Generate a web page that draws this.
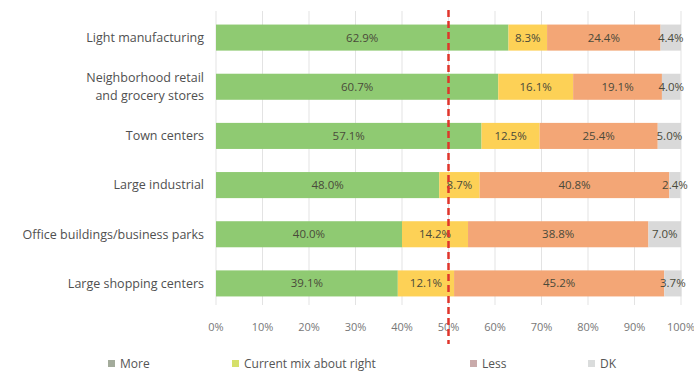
<!DOCTYPE html>
<html>
<head>
<meta charset="utf-8">
<script src="https://cdn.jsdelivr.net/npm/d3@7"></script>
<style>
	body { margin: 0; background: #fff; }
	text { font-family: "Open Sans", "Liberation Sans", sans-serif; }
</style>
</head>
<body>
<div id="chart"></div>
<script>
var categories = [
	["Light manufacturing"],
	["Neighborhood retail", "and grocery stores"],
	["Town centers"],
	["Large industrial"],
	["Office buildings/business parks"],
	["Large shopping centers"],
];
var seriesNames = ["More", "Current mix about right", "Less", "DK"];
var more = [62.9, 60.7, 57.1, 48.0, 40.0, 39.1];
var mixRight = [8.3, 16.1, 12.5, 8.7, 14.2, 12.1];
var less = [24.4, 19.1, 25.4, 40.8, 38.8, 45.2];
var dk = [4.4, 4.0, 5.0, 2.4, 7.0, 3.7];
var tickValues = [0, 10, 20, 30, 40, 50, 60, 70, 80, 90, 100];
var markerValue = 50;

var colors = ["#8fca72", "#fdd156", "#f3a676", "#d9d9d9"];
var legendColors = ["#a3ab9b", "#d5e06a", "#c9aaaa", "#dadcdc"];

var width = 694,
	height = 371;
var margin = { top: 13, right: 13, bottom: 63, left: 216 };

var svg = d3
	.select("#chart")
	.append("svg")
	.attr("width", width)
	.attr("height", height);

var x = d3
	.scaleLinear()
	.domain([0, 100])
	.range([margin.left, width - margin.right]);

var y = d3
	.scaleBand()
	.domain(d3.range(categories.length))
	.range([margin.top, height - margin.bottom])
	.paddingInner(0.47)
	.paddingOuter(0.235);

var rows = categories.map(function (c, i) {
	return { more: more[i], mix: mixRight[i], less: less[i], dk: dk[i] };
});
var keys = ["more", "mix", "less", "dk"];
var stacked = d3.stack().keys(keys)(rows);

// vertical gridlines
svg
	.append("g")
	.selectAll("line")
	.data(tickValues)
	.enter()
	.append("line")
	.attr("x1", function (d) { return x(d); })
	.attr("x2", function (d) { return x(d); })
	.attr("y1", margin.top - 2)
	.attr("y2", height - margin.bottom - 3)
	.attr("stroke", "#e3e3e3")
	.attr("stroke-width", 1);

// bars
var layers = svg
	.selectAll(".layer")
	.data(stacked)
	.enter()
	.append("g")
	.attr("fill", function (d, i) { return colors[i]; });

layers
	.selectAll("rect")
	.data(function (d) { return d; })
	.enter()
	.append("rect")
	.attr("x", function (d) { return x(d[0]); })
	.attr("width", function (d) { return x(d[1]) - x(d[0]); })
	.attr("y", function (d, i) { return y(i); })
	.attr("height", y.bandwidth());

// value labels
layers
	.selectAll(".val")
	.data(function (d) {
		return d.map(function (p) { return { p: p, key: d.key }; });
	})
	.enter()
	.append("text")
	.attr("x", function (d) { return (x(d.p[0]) + x(d.p[1])) / 2; })
	.attr("y", function (d, i) { return y(i) + y.bandwidth() / 2; })
	.attr("dy", "0.35em")
	.attr("text-anchor", "middle")
	.attr("font-size", 11.5)
	.attr("fill", "#4a4a3a")
	.text(function (d) { return d.p.data[d.key].toFixed(1) + "%"; });

// category labels
var catLabels = svg
	.append("g")
	.selectAll("text")
	.data(categories)
	.enter()
	.append("text")
	.attr("x", margin.left - 12)
	.attr("y", function (d, i) { return y(i) + y.bandwidth() / 2; })
	.attr("text-anchor", "end")
	.attr("font-size", 12.5)
	.attr("fill", "#505050");

catLabels
	.selectAll("tspan")
	.data(function (d) { return d; })
	.enter()
	.append("tspan")
	.attr("x", margin.left - 12)
	.attr("dy", function (d, i, nodes) {
		var n = nodes.length;
		return i === 0 ? (0.35 - (n - 1) * 0.7) + "em" : "1.4em";
	})
	.text(function (d) { return d; });

// x axis tick labels
svg
	.append("g")
	.selectAll("text")
	.data(tickValues)
	.enter()
	.append("text")
	.attr("x", function (d) { return x(d); })
	.attr("y", 331)
	.attr("text-anchor", "middle")
	.attr("font-size", 11)
	.attr("fill", "#777")
	.text(function (d) { return d + "%"; });

// 50% marker line
svg
	.append("line")
	.attr("x1", x(markerValue))
	.attr("x2", x(markerValue))
	.attr("y1", 10)
	.attr("y2", 344)
	.attr("stroke", "#e0352b")
	.attr("stroke-width", 2.5)
	.attr("stroke-dasharray", "7,4");

// legend
var legendX = [108, 232, 470, 588];
var legend = svg
	.append("g")
	.selectAll("g")
	.data(seriesNames)
	.enter()
	.append("g")
	.attr("transform", function (d, i) { return "translate(" + legendX[i] + ",364)"; });

legend
	.append("rect")
	.attr("x", 0)
	.attr("y", -4)
	.attr("width", 7)
	.attr("height", 7)
	.attr("fill", function (d, i) { return legendColors[i]; });

legend
	.append("text")
	.attr("x", 12)
	.attr("y", 0)
	.attr("dy", "0.35em")
	.attr("font-size", 12)
	.attr("fill", "#555")
	.text(function (d) { return d; });
</script>
</body>
</html>
